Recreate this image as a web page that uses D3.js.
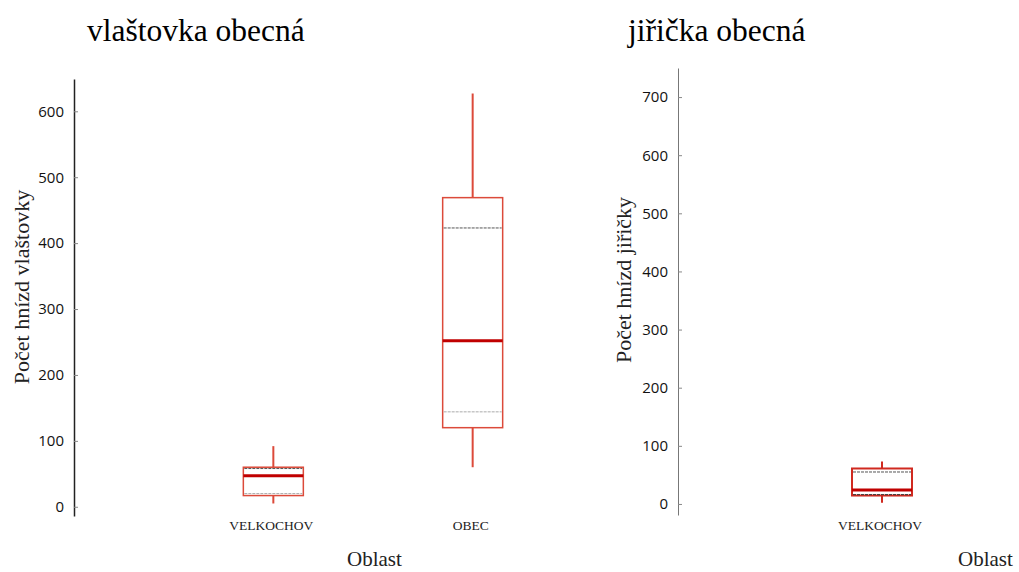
<!DOCTYPE html>
<html>
<head>
<meta charset="utf-8">
<script src="https://cdn.jsdelivr.net/npm/d3@7"></script>
<style>
  html, body { margin: 0; padding: 0; background: #fff; }
  svg { display: block; }
  .serif { font-family: "Liberation Serif", serif; }
  .sans { font-family: "Open Sans", "Noto Sans", sans-serif; }
</style>
</head>
<body>
<svg id="chart" width="1019" height="572"></svg>
<script>
// ---- Data: barn swallow (vlaštovka obecná) ----
const swallowCategories = ["VELKOCHOV", "OBEC"];
const swallowMin = [5, 60];
const swallowQ1 = [17, 120];
const swallowMedian = [47, 252];
const swallowQ3 = [60, 469];
const swallowMax = [92, 627];
const swallowLowerDotted = [20, 144];
const swallowUpperDotted = [58, 423];
const swallowTicks = [0, 100, 200, 300, 400, 500, 600];

// ---- Data: house martin (jiřička obecná) ----
const martinCategories = ["VELKOCHOV"];
const martinMin = [2];
const martinQ1 = [14.5];
const martinMedian = [24];
const martinQ3 = [61];
const martinMax = [73];
const martinLowerDotted = [16];
const martinUpperDotted = [55];
const martinTicks = [0, 100, 200, 300, 400, 500, 600, 700];

const svg = d3.select("#chart");

function panel(cfg) {
  const g = svg.append("g");
  const y = d3.scaleLinear().domain(cfg.yDomain).range([cfg.yBottom, cfg.yTop]);
  const x = d3.scalePoint().domain(cfg.categories).range([cfg.xLeft, cfg.xRight]).padding(1);

  const axis = d3.axisLeft(y).tickValues(cfg.ticks).tickSizeInner(-4).tickSizeOuter(0).tickPadding(10)
    .tickFormat(d3.format("d"));
  const ax = g.append("g").attr("transform", `translate(${cfg.xLeft},0)`).call(axis);
  ax.attr("font-family", null).attr("font-size", null);
  ax.select(".domain").attr("stroke", cfg.axisColor).attr("stroke-width", cfg.axisWidth);
  ax.selectAll(".tick line").attr("stroke", "#888");
  ax.selectAll(".tick text").attr("class", "sans").attr("font-size", 15).attr("fill", "#111");

  const rows = cfg.categories.map((c, i) => ({
    c, min: cfg.min[i], q1: cfg.q1[i], med: cfg.median[i], q3: cfg.q3[i], max: cfg.max[i],
    lo: cfg.lower[i], hi: cfg.upper[i]
  }));
  const bw = 60;
  const boxes = g.selectAll(".box").data(rows).join("g").attr("class", "box");
  // whiskers
  boxes.append("line").attr("x1", d => x(d.c)).attr("x2", d => x(d.c))
    .attr("y1", d => y(d.max)).attr("y2", d => y(d.q3))
    .attr("stroke", cfg.boxColor).attr("stroke-width", 2);
  boxes.append("line").attr("x1", d => x(d.c)).attr("x2", d => x(d.c))
    .attr("y1", d => y(d.q1)).attr("y2", d => y(d.min))
    .attr("stroke", cfg.boxColor).attr("stroke-width", 2);
  // box
  boxes.append("rect").attr("x", d => x(d.c) - bw / 2).attr("width", bw)
    .attr("y", d => y(d.q3)).attr("height", d => y(d.q1) - y(d.q3))
    .attr("fill", "none").attr("stroke", cfg.boxColor).attr("stroke-width", cfg.boxWidth);
  // dotted lines
  boxes.append("line").attr("x1", d => x(d.c) - bw / 2 + 1).attr("x2", d => x(d.c) + bw / 2 - 1)
    .attr("y1", d => y(d.hi)).attr("y2", d => y(d.hi))
    .attr("stroke", "#555").attr("stroke-width", 1).attr("stroke-dasharray", "3,1");
  boxes.append("line").attr("x1", d => x(d.c) - bw / 2 + 1).attr("x2", d => x(d.c) + bw / 2 - 1)
    .attr("y1", d => y(d.lo)).attr("y2", d => y(d.lo))
    .attr("stroke", cfg.lowerDotColor).attr("stroke-width", 1).attr("stroke-dasharray", "3,1");
  // median
  boxes.append("line").attr("x1", d => x(d.c) - bw / 2).attr("x2", d => x(d.c) + bw / 2)
    .attr("y1", d => y(d.med)).attr("y2", d => y(d.med))
    .attr("stroke", "#c00000").attr("stroke-width", 3);
  // category labels
  boxes.append("text").attr("class", "serif").attr("x", d => x(d.c) - 2).attr("y", 530)
    .attr("text-anchor", "middle").attr("font-size", 13.5)
    .attr("fill", "#222").text(d => d.c);

  // titles
  g.append("text").attr("class", "serif").attr("x", cfg.titleX).attr("y", 41)
    .attr("font-size", 31.5).attr("fill", "#000").text(cfg.title);
  g.append("text").attr("class", "serif")
    .attr("transform", `translate(${cfg.yLabelX},${cfg.yLabelY}) rotate(-90)`)
    .attr("text-anchor", "middle").attr("font-size", 22)
    .attr("fill", "#222").text(cfg.yLabel);
  g.append("text").attr("class", "serif").attr("x", cfg.xLabelX).attr("y", 566)
    .attr("font-size", 21).attr("fill", "#222").text("Oblast");
}

panel({
  categories: swallowCategories, min: swallowMin, q1: swallowQ1, median: swallowMedian,
  q3: swallowQ3, max: swallowMax, lower: swallowLowerDotted, upper: swallowUpperDotted,
  ticks: swallowTicks, yDomain: [-14, 649], yBottom: 516, yTop: 79, xLeft: 74, xRight: 672,
  axisColor: "#222", axisWidth: 1.5, boxColor: "#dc4a3a", boxWidth: 1.5, lowerDotColor: "#aaa",
  title: "vlaštovka obecná", titleX: 87, yLabel: "Počet hnízd vlaštovky", yLabelX: 29, yLabelY: 287,
  xLabelX: 347
});

panel({
  categories: martinCategories, min: martinMin, q1: martinQ1, median: martinMedian,
  q3: martinQ3, max: martinMax, lower: martinLowerDotted, upper: martinUpperDotted,
  ticks: martinTicks, yDomain: [-19, 750], yBottom: 515, yTop: 68, xLeft: 678, xRight: 1086,
  axisColor: "#777", axisWidth: 1, boxColor: "#d02a20", boxWidth: 2, lowerDotColor: "#333",
  title: "jiřička obecná", titleX: 628, yLabel: "Počet hnízd jiřičky", yLabelX: 631, yLabelY: 280,
  xLabelX: 958
});
</script>
</body>
</html>
